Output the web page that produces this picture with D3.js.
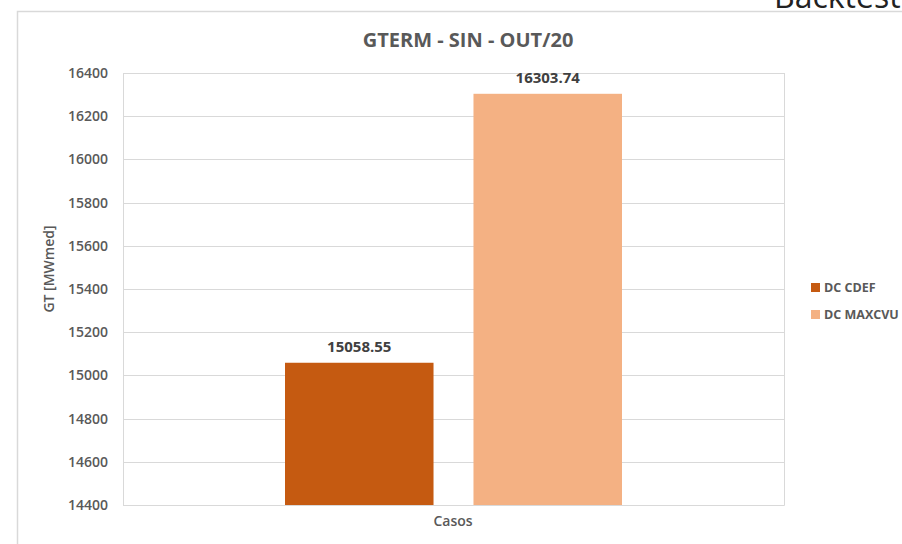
<!DOCTYPE html>
<html>
<head>
  <meta charset="utf-8">
  <title>GTERM - SIN - OUT/20</title>
  <script src="https://d3js.org/d3.v7.min.js"></script>
  <style>
    body { margin: 0; background: #fff; }
    text { font-family: "Open Sans", "Noto Sans", sans-serif; }
  </style>
</head>
<body>
  <script>
  // data
  var series = ["DC CDEF", "DC MAXCVU"];
  var values = [15058.55, 16303.74];
  var colors = ["#c55a11", "#f4b183"];
  var category = "Casos";
  var yTicks = [14400, 14600, 14800, 15000, 15200, 15400, 15600, 15800, 16000, 16200, 16400];

  var width = 902, height = 544;
  var plot = { left: 123, right: 784, top: 73, bottom: 505 };

  var svg = d3.select("body").append("svg").attr("width", width).attr("height", height);

  // text peeking above the chart frame
  svg.append("text")
    .attr("x", 774).attr("y", 8)
    .attr("font-size", "32px")
    .attr("fill", "#222")
    .text("Backtest");

  // chart frame
  svg.append("rect")
    .attr("x", 17.5).attr("y", 11.5)
    .attr("width", 900).attr("height", 560)
    .attr("fill", "#fff")
    .attr("stroke", "#d9d9d9")
    .attr("stroke-width", 1.5);

  var x0 = d3.scaleBand().domain([category]).range([plot.left, plot.right]);
  var x1 = d3.scaleBand().domain(series).range([285 - plot.left, 622 - plot.left]).paddingInner(0.212);

  var y = d3.scaleLinear().domain([14400, 16400]).range([plot.bottom, plot.top]);

  // gridlines
  svg.append("g")
    .selectAll("line")
    .data(yTicks)
    .enter().append("line")
    .attr("x1", plot.left).attr("x2", plot.right)
    .attr("y1", function(d) { return Math.round(y(d)) + 0.5; })
    .attr("y2", function(d) { return Math.round(y(d)) + 0.5; })
    .attr("stroke", "#d9d9d9")
    .attr("stroke-width", 1);

  // plot border
  svg.append("path")
    .attr("d", "M" + (plot.left + 0.5) + "," + plot.top + "V" + (plot.bottom + 0.5) + "H" + (plot.right + 0.5) + "V" + plot.top)
    .attr("fill", "none")
    .attr("stroke", "#d9d9d9");

  // y axis
  var axisy = d3.axisLeft(y).tickValues(yTicks).tickFormat(d3.format("d")).tickSize(0).tickPadding(15);
  var gy = svg.append("g")
    .attr("transform", "translate(" + plot.left + ",0)")
    .call(axisy);
  gy.select(".domain").remove();
  gy.selectAll("text")
    .attr("font-size", "14px")
    .attr("font-weight", "600")
    .attr("fill", "#595959")
    .style("font-family", "'Open Sans', sans-serif");

  // bars
  var g = svg.append("g").attr("transform", "translate(" + x0(category) + ",0)");
  g.selectAll("rect")
    .data(values)
    .enter().append("rect")
    .attr("x", function(d, i) { return x1(series[i]); })
    .attr("width", x1.bandwidth())
    .attr("y", function(d) { return y(d); })
    .attr("height", function(d) { return plot.bottom - y(d); })
    .attr("fill", function(d, i) { return colors[i]; });

  // value labels
  g.selectAll(".lbl")
    .data(values)
    .enter().append("text")
    .attr("class", "lbl")
    .attr("x", function(d, i) { return x1(series[i]) + x1.bandwidth() / 2; })
    .attr("y", function(d) { return y(d) - 11; })
    .attr("text-anchor", "middle")
    .attr("font-size", "15px")
    .attr("font-weight", "bold")
    .attr("fill", "#404040")
    .text(function(d) { return d.toFixed(2); });

  // x label
  svg.append("text")
    .attr("x", 453).attr("y", 526)
    .attr("text-anchor", "middle")
    .attr("font-size", "14px")
    .attr("font-weight", "600")
    .attr("fill", "#595959")
    .text(category);

  // y label
  svg.append("text")
    .attr("transform", "translate(54,269) rotate(-90)")
    .attr("text-anchor", "middle")
    .attr("font-size", "14px")
    .attr("font-weight", "600")
    .attr("fill", "#595959")
    .text("GT [MWmed]");

  // title
  svg.append("text")
    .attr("x", 468).attr("y", 47)
    .attr("text-anchor", "middle")
    .attr("font-size", "20px")
    .attr("font-weight", "bold")
    .attr("fill", "#595959")
    .text("GTERM - SIN - OUT/20");

  // legend
  var leg = svg.append("g").selectAll("g")
    .data(series)
    .enter().append("g")
    .attr("transform", function(d, i) { return "translate(811," + (283 + i * 27) + ")"; });
  leg.append("rect")
    .attr("width", 9).attr("height", 9)
    .attr("fill", function(d, i) { return colors[i]; });
  leg.append("text")
    .attr("x", 13).attr("y", 9)
    .attr("font-size", "12.5px")
    .attr("font-weight", "bold")
    .attr("fill", "#595959")
    .text(function(d) { return d; });
  </script>
</body>
</html>
